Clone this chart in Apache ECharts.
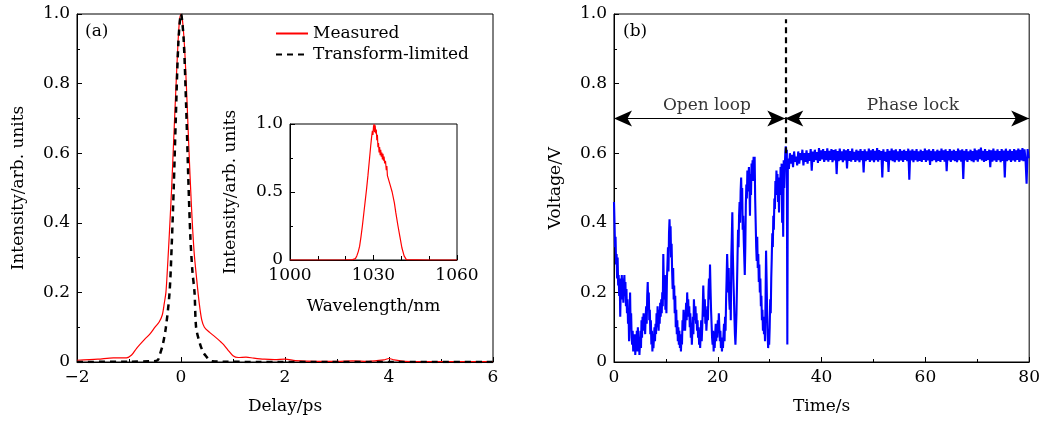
<!DOCTYPE html>
<html>
<head>
<meta charset="utf-8">
<script src="https://cdn.jsdelivr.net/npm/echarts@6/dist/echarts.min.js"></script>
<style>
  html, body { margin: 0; background: #fff; }
  #chart { width: 1043px; height: 421px; }
</style>
</head>
<body>
<div id="chart"></div>
<script>
// (a) autocorrelation traces
const delayMeasured = [-2.0, -1.6, -1.3, -1.05, -0.95, -0.85, -0.7, -0.6, -0.5, -0.42, -0.36, -0.32, -0.29, -0.26, -0.22, -0.18, -0.14, -0.1, -0.06, -0.03, 0, 0.03, 0.07, 0.11, 0.15, 0.2, 0.25, 0.3, 0.35, 0.4, 0.45, 0.55, 0.65, 0.75, 0.82, 0.9, 1.0, 1.1, 1.25, 1.4, 1.6, 1.8, 2.0, 2.2, 2.6, 3.0, 3.3, 3.6, 3.9, 4.0, 4.1, 4.3, 5.0, 6.0];
const intensityMeasured = [0.005, 0.008, 0.012, 0.012, 0.02, 0.04, 0.065, 0.08, 0.1, 0.115, 0.135, 0.17, 0.2, 0.27, 0.38, 0.5, 0.64, 0.78, 0.91, 0.98, 1.0, 0.98, 0.9, 0.77, 0.62, 0.45, 0.32, 0.24, 0.17, 0.12, 0.1, 0.085, 0.073, 0.06, 0.05, 0.035, 0.018, 0.013, 0.014, 0.011, 0.008, 0.007, 0.008, 0.004, 0.002, 0.002, 0.003, 0.002, 0.006, 0.01, 0.006, 0.002, 0.001, 0.001];
const delayTL = [-2.0, -1.0, -0.6, -0.45, -0.41, -0.35, -0.29, -0.22, -0.18, -0.14, -0.1, -0.05, 0, 0.05, 0.1, 0.14, 0.18, 0.22, 0.26, 0.29, 0.35, 0.42, 0.49, 0.55, 0.6, 0.8, 1.5, 6.0];
const intensityTL = [0, 0.001, 0.002, 0.005, 0.02, 0.05, 0.1, 0.2, 0.33, 0.5, 0.7, 0.92, 1.0, 0.93, 0.73, 0.53, 0.36, 0.26, 0.2, 0.1, 0.06, 0.03, 0.015, 0.005, 0.002, 0.001, 0, 0];

// (a) inset spectrum
const wavelength = [1000, 1010, 1020, 1022.5, 1023.5, 1024, 1024.5, 1025, 1025.5, 1026, 1026.5, 1027, 1027.5, 1028, 1028.5, 1029, 1029.3, 1029.6, 1029.8, 1030, 1030.2, 1030.4, 1030.6, 1030.8, 1031, 1031.2, 1031.4, 1031.6, 1031.8, 1032, 1032.2, 1032.4, 1032.6, 1032.8, 1033, 1033.2, 1033.4, 1033.6, 1033.8, 1034, 1034.3, 1034.6, 1034.8, 1035, 1036, 1036.7, 1037.5, 1038, 1038.8, 1039.5, 1040.2, 1041, 1041.8, 1042.3, 1050, 1060];
const spectrum = [0, 0, 0.002, 0.003, 0.01, 0.03, 0.06, 0.1, 0.17, 0.25, 0.34, 0.43, 0.52, 0.62, 0.73, 0.84, 0.9, 0.95, 0.92, 0.98, 1.0, 0.94, 0.99, 0.93, 0.96, 0.88, 0.92, 0.83, 0.86, 0.79, 0.83, 0.77, 0.81, 0.76, 0.79, 0.74, 0.78, 0.73, 0.76, 0.71, 0.73, 0.66, 0.69, 0.62, 0.55, 0.5, 0.42, 0.35, 0.25, 0.17, 0.09, 0.03, 0.003, 0, 0, 0];

// (b) error signal voltage
const openStep = 0.1;   // s, open loop samples from t = 0
const openVoltage = [
  0.46, 0.40, 0.33, 0.36, 0.28, 0.31, 0.24, 0.30, 0.22, 0.25,
  0.19, 0.24, 0.13, 0.21, 0.18, 0.25, 0.20, 0.24, 0.17, 0.22,
  0.25, 0.19, 0.23, 0.16, 0.21, 0.14, 0.18, 0.11, 0.15, 0.06,
  0.12, 0.20, 0.10, 0.14, 0.07, 0.05, 0.09, 0.03, 0.06, 0.04,
  0.08, 0.02, 0.06, 0.03, 0.09, 0.05, 0.10, 0.03, 0.07, 0.02,
  0.05, 0.09, 0.04, 0.12, 0.07, 0.13, 0.09, 0.14, 0.10, 0.12,
  0.08, 0.13, 0.16, 0.11, 0.19, 0.23, 0.15, 0.20, 0.12, 0.15,
  0.08, 0.12, 0.05, 0.09, 0.03, 0.08, 0.04, 0.07, 0.10, 0.06,
  0.11, 0.08, 0.14, 0.10, 0.16, 0.12, 0.09, 0.15, 0.11, 0.17,
  0.13, 0.18, 0.14, 0.20, 0.16, 0.31, 0.22, 0.18, 0.25, 0.15,
  0.19, 0.14, 0.24, 0.28, 0.33, 0.26, 0.37, 0.41, 0.35, 0.39,
  0.30, 0.34, 0.26, 0.21, 0.27, 0.18, 0.22, 0.14, 0.19, 0.10,
  0.15, 0.08, 0.12, 0.06, 0.10, 0.05, 0.09, 0.04, 0.07, 0.03,
  0.08, 0.05, 0.12, 0.09, 0.15, 0.11, 0.14, 0.09, 0.13, 0.17,
  0.12, 0.20, 0.15, 0.18, 0.13, 0.16, 0.10, 0.14, 0.07, 0.11,
  0.05, 0.09, 0.13, 0.08, 0.18, 0.14, 0.12, 0.16, 0.11, 0.14,
  0.09, 0.12, 0.07, 0.10, 0.05, 0.09, 0.04, 0.08, 0.12, 0.06,
  0.10, 0.15, 0.22, 0.17, 0.13, 0.18, 0.11, 0.15, 0.09, 0.12,
  0.16, 0.12, 0.20, 0.24, 0.18, 0.28, 0.21, 0.15, 0.11, 0.07,
  0.05, 0.09, 0.03, 0.07, 0.04, 0.08, 0.11, 0.06, 0.10, 0.07,
  0.12, 0.09, 0.14, 0.10, 0.06, 0.09, 0.04, 0.07, 0.03, 0.06,
  0.04, 0.08, 0.11, 0.06, 0.13, 0.09, 0.18, 0.24, 0.31, 0.26,
  0.20, 0.27, 0.18, 0.15, 0.22, 0.12, 0.30, 0.36, 0.43, 0.31,
  0.24, 0.19, 0.13, 0.08, 0.05, 0.09, 0.14, 0.22, 0.30, 0.38,
  0.33, 0.42, 0.46, 0.40, 0.49, 0.53, 0.45, 0.50, 0.38, 0.42,
  0.35, 0.30, 0.25, 0.33, 0.45, 0.51, 0.47, 0.55, 0.49, 0.53,
  0.56, 0.50, 0.42, 0.54, 0.48, 0.57, 0.52, 0.58, 0.55, 0.59,
  0.52, 0.59, 0.47, 0.40, 0.33, 0.29, 0.36, 0.27, 0.31, 0.23,
  0.28, 0.20, 0.24, 0.16, 0.19, 0.12, 0.15, 0.09, 0.13, 0.08,
  0.11, 0.06, 0.18, 0.32, 0.24, 0.15, 0.08, 0.04, 0.07, 0.05,
  0.10, 0.18, 0.14, 0.24, 0.30, 0.37, 0.33, 0.42, 0.38, 0.47,
  0.44, 0.52, 0.48, 0.55, 0.51, 0.54, 0.46, 0.50, 0.43, 0.53,
  0.48, 0.56, 0.51, 0.57, 0.40, 0.53, 0.36, 0.58, 0.50, 0.55,
  0.60, 0.62, 0.58, 0.61, 0.05
];
const lockStart = 33.5; // s
const lockStep = 0.2;   // s
const lockVoltage = [
  0.585, 0.555, 0.600, 0.570, 0.595, 0.560, 0.605, 0.575, 0.590, 0.565,
  0.605, 0.570, 0.600, 0.580, 0.610, 0.565, 0.600, 0.575, 0.608, 0.570,
  0.600, 0.578, 0.612, 0.550, 0.605, 0.575, 0.610, 0.580, 0.603, 0.572,
  0.615, 0.578, 0.608, 0.582, 0.612, 0.575, 0.606, 0.580, 0.614, 0.576,
  0.607, 0.581, 0.612, 0.574, 0.609, 0.579, 0.611, 0.540, 0.606, 0.577,
  0.613, 0.580, 0.605, 0.574, 0.611, 0.579, 0.608, 0.556, 0.612, 0.578,
  0.606, 0.576, 0.613, 0.581, 0.604, 0.575, 0.610, 0.579, 0.607, 0.574,
  0.612, 0.580, 0.606, 0.545, 0.611, 0.577, 0.605, 0.581, 0.613, 0.575,
  0.608, 0.579, 0.612, 0.574, 0.607, 0.580, 0.615, 0.576, 0.609, 0.581,
  0.606, 0.530, 0.611, 0.578, 0.604, 0.575, 0.612, 0.546, 0.607, 0.580,
  0.613, 0.577, 0.608, 0.574, 0.611, 0.580, 0.605, 0.576, 0.612, 0.579,
  0.607, 0.575, 0.610, 0.581, 0.606, 0.577, 0.613, 0.524, 0.608, 0.579,
  0.611, 0.574, 0.607, 0.580, 0.612, 0.576, 0.605, 0.578, 0.610, 0.575,
  0.606, 0.581, 0.613, 0.575, 0.608, 0.579, 0.611, 0.566, 0.607, 0.577,
  0.612, 0.580, 0.605, 0.574, 0.610, 0.578, 0.607, 0.575, 0.613, 0.581,
  0.608, 0.576, 0.611, 0.548, 0.606, 0.579, 0.612, 0.575, 0.607, 0.580,
  0.610, 0.577, 0.606, 0.574, 0.613, 0.580, 0.608, 0.576, 0.611, 0.526,
  0.607, 0.579, 0.612, 0.575, 0.605, 0.581, 0.610, 0.577, 0.606, 0.574,
  0.613, 0.580, 0.608, 0.576, 0.611, 0.583, 0.616, 0.579, 0.607, 0.575,
  0.612, 0.578, 0.606, 0.581, 0.610, 0.560, 0.608, 0.576, 0.613, 0.579,
  0.607, 0.575, 0.611, 0.580, 0.606, 0.574, 0.612, 0.578, 0.608, 0.530,
  0.613, 0.577, 0.607, 0.580, 0.611, 0.575, 0.606, 0.579, 0.612, 0.576,
  0.608, 0.581, 0.613, 0.575, 0.610, 0.579, 0.615, 0.577, 0.611, 0.580,
  0.512, 0.612, 0.585
];
const lockTime = 33; // s, switch-on of the lock

const FONT = 'DejaVu Serif';
const FS = 17;

const pairs = (xs, ys) => xs.map((x, i) => [x, ys[i]]);
const voltageData = openVoltage.map((v, i) => [i * openStep, v])
  .concat(lockVoltage.map((v, i) => [lockStart + i * lockStep, v]));

const fmt1 = v => (v === 0 ? '0' : v.toFixed(1));
const plain = v => String(v).replace('-', '\u2212');
const txt = { color: '#000', fontFamily: FONT, fontSize: FS };

function valAxis(o) {
  return Object.assign({
    type: 'value',
    axisLine: { onZero: false, lineStyle: { color: '#000', width: 1 } },
    axisTick: { inside: true, length: 5, lineStyle: { color: '#000' } },
    minorTick: { show: true, splitNumber: 2, length: 3, lineStyle: { color: '#000' } },
    splitLine: { show: false },
    axisLabel: Object.assign({ margin: 7, formatter: plain }, txt),
    nameTextStyle: txt,
    nameLocation: 'middle'
  }, o);
}

const chart = echarts.init(document.getElementById('chart'));
chart.setOption({
  animation: false,
  backgroundColor: '#fff',
  grid: [
    { left: 77, top: 14, width: 416, height: 348, show: true, borderColor: '#000', borderWidth: 1, backgroundColor: '#fff' },
    { left: 290, top: 124, width: 167, height: 136, show: true, borderColor: '#000', borderWidth: 1, backgroundColor: '#fff' },
    { left: 614, top: 14, width: 416, height: 348, show: true, borderColor: '#000', borderWidth: 1, backgroundColor: '#fff' }
  ],
  xAxis: [
    valAxis({ gridIndex: 0, min: -2, max: 6, interval: 2, name: 'Delay/ps', nameGap: 36 }),
    valAxis({ gridIndex: 1, min: 1000, max: 1060, interval: 30, name: 'Wavelength/nm', nameGap: 38,
      minorTick: { show: true, splitNumber: 3, length: 4, lineStyle: { color: '#000' } } }),
    valAxis({ gridIndex: 2, min: 0, max: 80, interval: 20, name: 'Time/s', nameGap: 36 })
  ],
  yAxis: [
    valAxis({ gridIndex: 0, min: 0, max: 1, interval: 0.2, name: 'Intensity/arb. units', nameGap: 50,
      axisLabel: Object.assign({ margin: 7, formatter: fmt1 }, txt) }),
    valAxis({ gridIndex: 1, min: 0, max: 1, interval: 0.5, name: 'Intensity/arb. units', nameGap: 51,
      axisLabel: Object.assign({ margin: 7, formatter: fmt1 }, txt) }),
    valAxis({ gridIndex: 2, min: 0, max: 1, interval: 0.2, name: 'Voltage/V', nameGap: 50,
      axisLabel: Object.assign({ margin: 7, formatter: fmt1 }, txt) })
  ],
  legend: {
    orient: 'vertical', left: 270, top: 20, itemWidth: 32, itemHeight: 14, itemGap: 4,
    itemStyle: { opacity: 0 },
    textStyle: txt,
    data: ['Measured', 'Transform-limited']
  },
  series: [
    { name: 'Measured', type: 'line', xAxisIndex: 0, yAxisIndex: 0, symbol: 'none', smooth: 0.3,
      lineStyle: { color: '#ff0000', width: 1.2 }, itemStyle: { color: '#ff0000' },
      data: pairs(delayMeasured, intensityMeasured) },
    { name: 'Transform-limited', type: 'line', xAxisIndex: 0, yAxisIndex: 0, symbol: 'none', smooth: 0.3,
      lineStyle: { color: '#000', width: 2.5, type: [6, 5] }, itemStyle: { color: '#000' },
      data: pairs(delayTL, intensityTL) },
    { name: 'Spectrum', type: 'line', xAxisIndex: 1, yAxisIndex: 1, symbol: 'none',
      lineStyle: { color: '#ff0000', width: 1.2 },
      data: pairs(wavelength, spectrum) },
    { name: 'Voltage', type: 'line', xAxisIndex: 2, yAxisIndex: 2, symbol: 'none',
      lineStyle: { color: '#0000ff', width: 2.1 },
      data: voltageData,
      markLine: {
        silent: true, animation: false,
        label: { show: false },
        data: [
          [{ coord: [lockTime, 0.6], symbol: 'none', lineStyle: { color: '#000', width: 2.2, type: [6, 4] } },
           { coord: [lockTime, 0.985], symbol: 'none' }],
          [{ coord: [0, 0.7], symbol: 'arrow', lineStyle: { color: '#000', width: 1, type: 'solid' } },
           { coord: [lockTime, 0.7], symbol: 'arrow' }],
          [{ coord: [lockTime, 0.7], symbol: 'arrow', lineStyle: { color: '#000', width: 1, type: 'solid' } },
           { coord: [80, 0.7], symbol: 'arrow' }]
        ],
        symbolSize: [12, 18]
      } },
    { name: 'Notes', type: 'scatter', xAxisIndex: 2, yAxisIndex: 2, symbolSize: 0, silent: true,
      label: Object.assign({ show: true, position: 'inside', formatter: '{b}' }, txt),
      data: [{ name: 'Open loop', value: [17.9, 0.737] }, { name: 'Phase lock', value: [57.6, 0.737] }] }
  ],
  graphic: [
    { type: 'text', left: 85, top: 23, style: { text: '(a)', fill: '#000', font: FS + 'px "' + FONT + '"' } },
    { type: 'text', left: 623, top: 23, style: { text: '(b)', fill: '#000', font: FS + 'px "' + FONT + '"' } }
  ]
});
</script>
</body>
</html>
